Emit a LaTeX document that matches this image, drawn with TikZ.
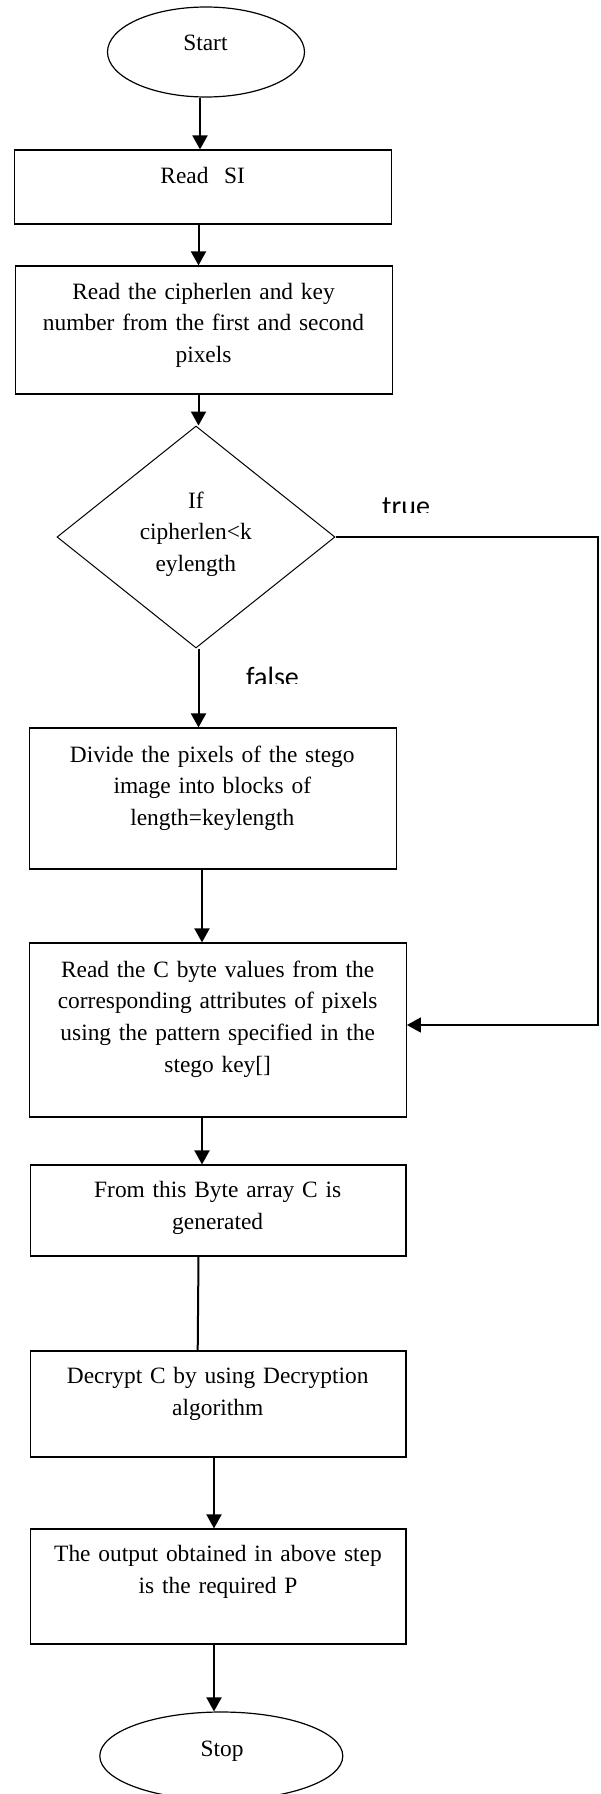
\documentclass[tikz,border=0pt]{standalone}
\usepackage{fontspec}
\setmainfont{Liberation Serif}
\newfontfamily\labfont{Carlito}
\usetikzlibrary{shapes.geometric,arrows.meta}
\begin{document}
\begin{tikzpicture}[x=1pt,y=-1pt,
  box/.style={draw,line width=1.2pt,inner sep=0pt,minimum width=#1},
  term/.style={draw,ellipse,line width=1.2pt,inner sep=0pt},
  dia/.style={draw,diamond,line width=1pt,inner sep=0pt,minimum width=278pt,minimum height=222pt},
  txt/.style={inner sep=0pt,anchor=base,align=center,text width=#1,font=\fontsize{23.4}{31.8}\selectfont},
  arr/.style={line width=2pt,-{Triangle[width=15pt,length=14pt]}},
  conn/.style={line width=2pt},
  lab/.style={inner sep=0pt,anchor=base west,font=\labfont\fontsize{28}{30}\selectfont}]
\useasboundingbox (0,0) rectangle (600,1794);

% shapes
\node[term,minimum width=197pt,minimum height=90pt] (start) at (206,52) {};
\node[box=377.4pt,minimum height=74pt] (readsi) at (202.9,187) {};
\node[box=377pt,minimum height=128pt] (readlen) at (203.9,330) {};
\node[dia] (cond) at (196,537) {};
\node[box=367pt,minimum height=141pt] (divide) at (213,798.5) {};
\node[box=376.6pt,minimum height=174pt] (readc) at (218,1030) {};
\node[box=375.7pt,minimum height=91pt] (fromb) at (218.1,1210.5) {};
\node[box=375.7pt,minimum height=106pt] (decrypt) at (218.1,1404) {};
\node[box=375.7pt,minimum height=115pt] (output) at (218.1,1586.5) {};
\node[term,minimum width=243pt,minimum height=88pt] (stop) at (221.3,1756) {};

% texts
\node[txt=150pt] (tstart) at (205.4,50.7) {Start};
\node[txt=300pt] (treadsi) at (202.7,183.3) {Read\ \ SI};
\node[txt=370pt] (treadlen) at (203.5,299) {Read the cipherlen and key\\number from the first and second\\pixels};
\node[txt=200pt] (tcond) at (195.8,508) {If\\cipherlen<k\\eylength};
\node[txt=360pt] (tdivide) at (212.3,762) {Divide the pixels of the stego\\image into blocks of\\length=keylength};
\node[txt=370pt] (treadc) at (217.7,977) {Read the C byte values from the\\corresponding attributes of pixels\\using the pattern specified in the\\stego key[]};
\node[txt=370pt] (tfromb) at (217.7,1197.7) {From this Byte array C is\\generated};
\node[txt=370pt] (tdecrypt) at (217.7,1383.3) {Decrypt C by using Decryption\\algorithm};
\node[txt=370pt] (toutput) at (218,1561.7) {The output obtained in above step\\is the required P};
\node[txt=150pt] (tstop) at (222,1756) {Stop};

% labels (clipped as in the picture)
\begin{scope}
  \clip (370,485) rectangle (450,512);
  \node[lab] (ltrue) at (382,515.5) {true};
\end{scope}
\begin{scope}
  \clip (235,655) rectangle (320,683);
  \node[lab] (lfalse) at (246,686.5) {false};
\end{scope}

% connectors
\coordinate (cr1) at (598,537);
\coordinate (cr2) at (598,1025);
\draw[arr] (200,0 |- start.south) -- (200,0 |- readsi.north);
\draw[arr] (198.5,0 |- readsi.south) -- (198.5,0 |- readlen.north);
\draw[arr] (198.5,0 |- readlen.south) -- (198.5,0 |- cond.north);
\draw[arr] (198.5,0 |- cond.south) -- (198.5,0 |- divide.north);
\draw[arr] (202,0 |- divide.south) -- (202,0 |- readc.north);
\draw[line width=1.5pt,-{Triangle[width=15pt,length=14pt]}] (cond.east) -- (cr1) -- (cr2) -- (cr2 -| readc.east);
\draw[arr] (202,0 |- readc.south) -- (202,0 |- fromb.north);
\draw[conn] (198.5,0 |- fromb.south) -- (197.7,0 |- decrypt.north);
\draw[arr] (214,0 |- decrypt.south) -- (214,0 |- output.north);
\draw[arr] (214,0 |- output.south) -- (214,0 |- stop.north);
\end{tikzpicture}
\end{document}
